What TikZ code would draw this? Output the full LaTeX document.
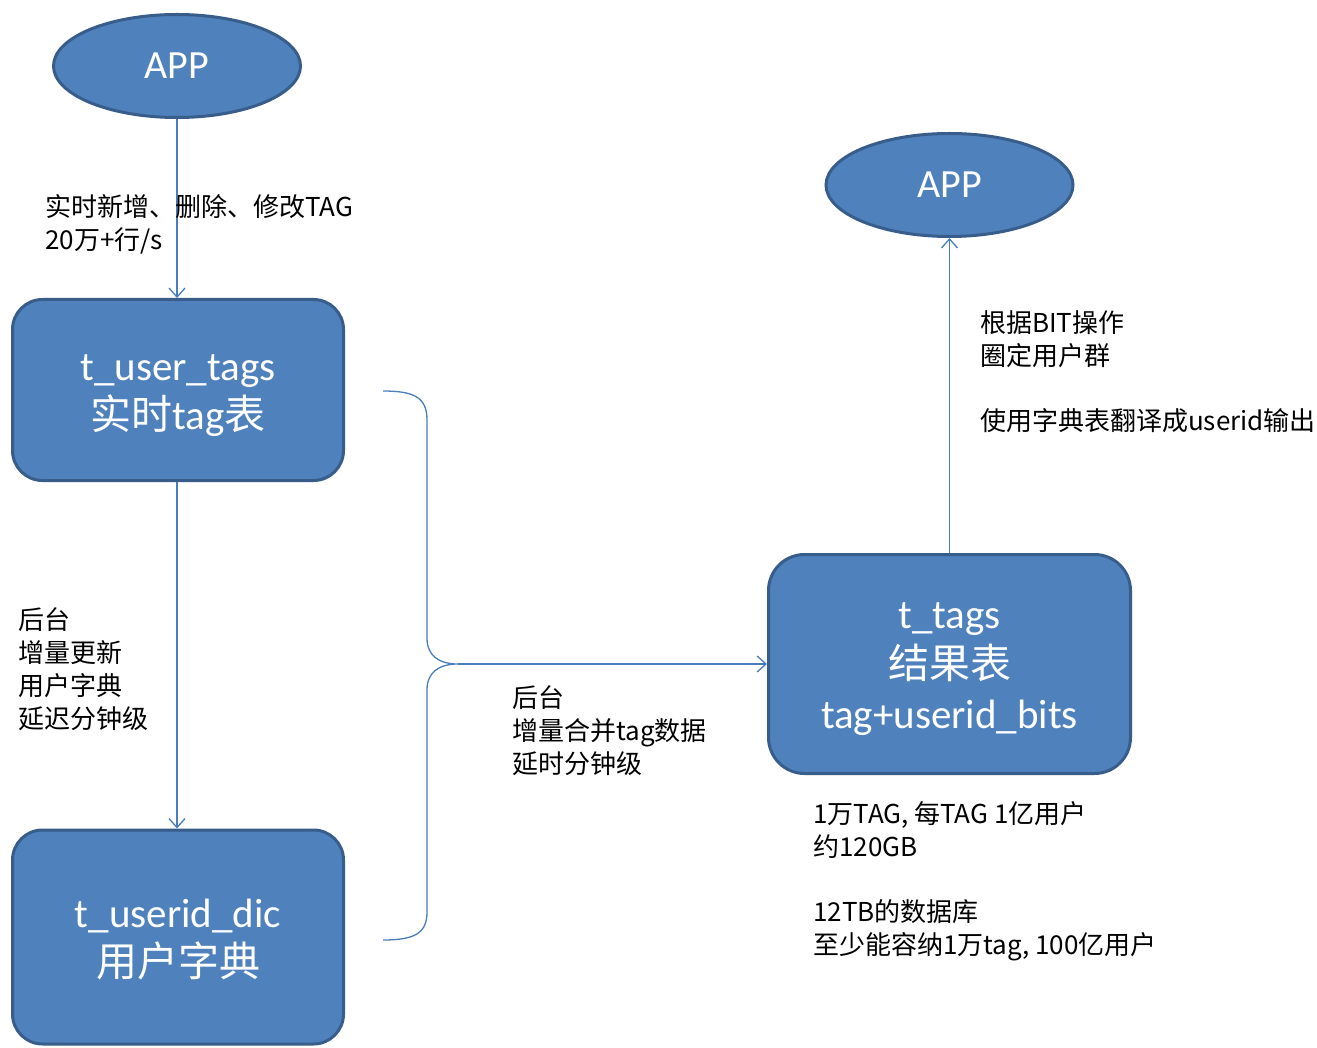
\documentclass[tikz,border=0pt]{standalone}
\usepackage{fontspec}
\setmainfont{Noto Sans CJK SC}
\newfontfamily\calfont{Carlito}
\newfontfamily\cjkfont{Noto Sans CJK SC}
\usetikzlibrary{shapes.geometric,arrows.meta}
\definecolor{boxfill}{HTML}{4F81BD}
\definecolor{boxdraw}{HTML}{385D8A}
\definecolor{linec}{HTML}{4A7EBB}
\begin{document}
\begin{tikzpicture}[x=1pt,y=-1pt,
  appnode/.style={ellipse, fill=boxfill, draw=boxdraw, line width=3pt, minimum width=247pt, minimum height=103pt, inner sep=0pt, text=white, font=\calfont\fontsize{40}{46}\selectfont},
  tablebox/.style={rectangle, rounded corners=30pt, fill=boxfill, draw=boxdraw, line width=3pt, inner sep=0pt, text=white, font=\calfont\fontsize{41}{48}\selectfont},
  conn/.style={draw=linec, line width=1.3pt, -{Straight Barb[length=9pt,width=16pt]}},
  lbl/.style={align=left, inner sep=0pt, anchor=west, font=\fontsize{26}{33}\selectfont, text=black}]
\fill[white] (0,0) rectangle (1317,1048);
\useasboundingbox (0,0) rectangle (1317,1048);

\node[appnode] (app1) at (177,66) {APP};
\node[appnode] (app2) at (949.5,185) {APP};

\node[tablebox, minimum width=331pt, minimum height=181pt] (tut) at (178,390) {\raisebox{-12pt}[0pt][0pt]{\begin{tabular}{@{}c@{}}t\_user\_tags\\{\cjkfont 实时}tag{\cjkfont 表}\end{tabular}}};
\node[tablebox, minimum width=331pt, minimum height=214pt] (tud) at (178,937) {\raisebox{-12pt}[0pt][0pt]{\begin{tabular}{@{}c@{}}t\_userid\_dic\\{\cjkfont 用户字典}\end{tabular}}};
\node[tablebox, rounded corners=36pt, minimum width=362pt, minimum height=219pt] (ttags) at (949.5,664) {\raisebox{-11pt}[0pt][0pt]{\begin{tabular}{@{}c@{}}t\_tags\\[1pt]{\cjkfont 结果表}\\[2pt]tag+userid\_bits\end{tabular}}};

\draw[conn] (app1) -- (app1 |- tut.north);
\draw[conn] (tut.south -| app1) -- (app1 |- tud.north);
\draw[conn] (ttags) -- (app2);

\coordinate (tip) at (458,664);
\draw[linec, line width=1.3pt] (383,391) .. controls (415,391) and (427,398) .. (427,420) -- (427,638) .. controls (427,655) and (438,664) .. (tip) .. controls (438,664) and (427,673) .. (427,690) -- (427,912) .. controls (427,933) and (415,940) .. (383,940);
\draw[conn] (tip) -- (ttags);

\node[lbl] (l1) at (45,224) {实时新增、删除、修改TAG\\20万+行/s};
\node[lbl] (l2) at (18,669) {后台\\增量更新\\用户字典\\延迟分钟级};
\node[lbl] (l3) at (512,731) {后台\\增量合并tag数据\\延时分钟级};
\node[lbl] (l4) at (980,372) {根据BIT操作\\圈定用户群\\[32pt]使用字典表翻译成userid输出};
\node[lbl] (l5) at (813,881) {1万TAG, 每TAG 1亿用户\\约120GB\\[32pt]12TB的数据库\\至少能容纳1万tag, 100亿用户};
\end{tikzpicture}
\end{document}
